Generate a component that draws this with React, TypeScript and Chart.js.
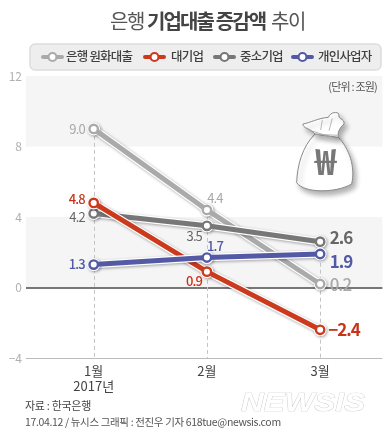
import React, { useEffect, useRef } from "react";
import { Chart, registerables } from "chart.js";

Chart.register(...registerables);

const months = ["1월", "2월", "3월"];
const yearNote = "2017년";
const bankLoans = [9.0, 4.4, 0.2];
const largeFirms = [4.8, 0.9, -2.4];
const smeFirms = [4.2, 3.5, 2.6];
const soleProps = [1.3, 1.7, 1.9];
const seriesNames = ["은행 원화대출", "대기업", "중소기업", "개인사업자"];
const seriesColors = ["#aaaaaa", "#cc3a1e", "#777777", "#5459a6"];
const labelTextColors = ["#a8a8a8", "#c9331a", "#666666", "#5459a6"];
const drawOrder = [3, 1, 2, 0];

const FONT = '"Noto Sans CJK KR", "Noto Sans", sans-serif';

// label placement per series/point: [dx, dy, align, size, weight]
const labelStyle: [number, number, CanvasTextAlign, number, number][][] = [
  [[-9, 0, "right", 13, 400], [8, -12, "center", 13, 400], [9.5, 1, "left", 17, 500]],
  [[-9, -4, "right", 13, 500], [-5, 9, "right", 13, 500], [8, 0, "left", 17, 700]],
  [[-9, 3.5, "right", 13, 400], [-5, 10, "right", 13, 400], [9.5, -4, "left", 17, 700]],
  [[-9, -1, "right", 13, 500], [8, -11, "center", 13, 500], [9.5, 8, "left", 17, 700]],
];

const fmt = (v: number) => (v < 0 ? "−" : "") + Math.abs(v).toFixed(1);

function text(ctx: any, s: string, x: number, y: number, font: string, color: string, align: CanvasTextAlign = "left", spacing = "0px") {
  ctx.font = font;
  ctx.fillStyle = color;
  ctx.textAlign = align;
  ctx.textBaseline = "middle";
  ctx.letterSpacing = spacing;
  ctx.fillText(s, x, y);
  ctx.letterSpacing = "0px";
}

const bandsPlugin = {
  id: "bands",
  beforeDraw(chart: any) {
    const { ctx, chartArea: a, scales } = chart;
    const y = scales.y;
    ctx.save();
    ctx.fillStyle = "#ffffff";
    ctx.fillRect(0, 0, chart.width, chart.height);
    ctx.fillStyle = "#f5f5f5";
    ctx.fillRect(a.left, y.getPixelForValue(12), a.width, y.getPixelForValue(8) - y.getPixelForValue(12));
    ctx.fillRect(a.left, y.getPixelForValue(4), a.width, y.getPixelForValue(0) - y.getPixelForValue(4));
    ctx.restore();
  },
  beforeDatasetsDraw(chart: any) {
    const { ctx, chartArea: a, scales, data } = chart;
    ctx.save();
    ctx.strokeStyle = "#c4c4c4";
    ctx.lineWidth = 1;
    ctx.setLineDash([4, 3]);
    months.forEach((_, i) => {
      const top = Math.max(...data.datasets.map((d: any) => d.data[i].y));
      const x = Math.round(scales.x.getPixelForValue(i)) + 0.5;
      ctx.beginPath();
      ctx.moveTo(x, scales.y.getPixelForValue(top));
      ctx.lineTo(x, a.bottom);
      ctx.stroke();
    });
    ctx.restore();
    drawBag(ctx);
  },
  beforeDatasetDraw(chart: any, args: any) {
    const { ctx } = chart;
    const pts = args.meta.data;
    ctx.save();
    ctx.shadowColor = "rgba(0,0,0,0.35)";
    ctx.shadowBlur = 3;
    ctx.shadowOffsetX = 1;
    ctx.shadowOffsetY = 1;
    ctx.strokeStyle = "#ffffff";
    ctx.lineWidth = 7.5;
    ctx.beginPath();
    pts.forEach((p: any, i: number) => (i ? ctx.lineTo(p.x, p.y) : ctx.moveTo(p.x, p.y)));
    ctx.stroke();
    ctx.fillStyle = "#ffffff";
    pts.forEach((p: any) => {
      ctx.beginPath();
      ctx.arc(p.x, p.y, 6.5, 0, Math.PI * 2);
      ctx.fill();
    });
    ctx.restore();
  },
  afterDraw(chart: any) {
    const { ctx, data } = chart;
    ctx.save();
    // data labels
    data.datasets.forEach((d: any, si: number) => {
      const meta = chart.getDatasetMeta(si);
      meta.data.forEach((p: any, i: number) => {
        const [dx, dy, align, size, weight] = labelStyle[si][i];
        text(ctx, fmt(d.data[i].y), p.x + dx, p.y + dy, `${weight} ${size}px ${FONT}`, labelTextColors[si], align, size > 14 ? "-1px" : "-0.9px");
      });
    });

    // title
    const reg = `400 20px ${FONT}`;
    const bold = `700 20px ${FONT}`;
    text(ctx, "은행", 110, 21, reg, "#555555", "left", "-1.3px");
    text(ctx, "기업대출 증감액", 147, 21, bold, "#444444", "left", "-1.9px");
    text(ctx, "추이", 271, 21, reg, "#555555", "left", "-1.3px");

    // legend
    ctx.beginPath();
    ctx.roundRect(30, 44, 351, 26, 5);
    ctx.fillStyle = "#eeeeee";
    ctx.fill();
    ctx.strokeStyle = "#dddddd";
    ctx.lineWidth = 1.5;
    ctx.stroke();
    const swatchX = [41, 143, 213, 291];
    const textX = [66, 171, 240, 318];
    seriesNames.forEach((name, i) => {
      const c = seriesColors[i];
      ctx.strokeStyle = c;
      ctx.lineWidth = 4;
      ctx.lineCap = "round";
      ctx.beginPath();
      ctx.moveTo(swatchX[i] + 2, 57);
      ctx.lineTo(swatchX[i] + 21, 57);
      ctx.stroke();
      ctx.lineCap = "butt";
      ctx.beginPath();
      ctx.arc(swatchX[i] + 11.5, 57, 4, 0, Math.PI * 2);
      ctx.fillStyle = "#ffffff";
      ctx.fill();
      ctx.lineWidth = 2.2;
      ctx.stroke();
      text(ctx, name, textX[i], 56.5, `500 12.5px ${FONT}`, "#3f3f3f", "left", "-0.8px");
    });

    // notes
    text(ctx, "(단위 : 조원)", 377, 87, `400 11px ${FONT}`, "#555555", "right", "-0.8px");
    text(ctx, "자료 : 한국은행", 25, 406, `400 11px ${FONT}`, "#444444", "left", "-0.3px");
    text(ctx, "17.04.12 / 뉴시스 그래픽 : 전진우 기자 618tue@newsis.com", 25, 422, `400 10.5px ${FONT}`, "#555555", "left", "-0.35px");

    // watermark
    ctx.save();
    ctx.font = `italic 700 24px "Liberation Sans", sans-serif`;
    ctx.textAlign = "left";
    ctx.textBaseline = "alphabetic";
    const w = ctx.measureText("NEWSIS").width;
    ctx.translate(241, 411);
    ctx.scale(124 / w, 1.05);
    ctx.fillStyle = "#ffffff";
    ctx.strokeStyle = "#c8c8c8";
    ctx.lineWidth = 0.7;
    ctx.strokeText("NEWSIS", 0, 0);
    ctx.fillText("NEWSIS", 0, 0);
    ctx.restore();
    ctx.restore();
  },
};

function drawBag(ctx: any) {
  ctx.save();
  ctx.translate(189, 110);
  ctx.scale(1 / 3, 1 / 3);
  ctx.shadowColor = "rgba(0,0,0,0.3)";
  ctx.shadowBlur = 5;
  ctx.shadowOffsetX = 3;
  ctx.shadowOffsetY = 4;
  ctx.fillStyle = "#ffffff";
  ctx.strokeStyle = "#8a8a8a";
  ctx.lineWidth = 3;
  ctx.lineJoin = "round";
  // body
  ctx.beginPath();
  ctx.moveTo(378, 72);
  ctx.bezierCurveTo(340, 110, 325, 165, 323, 218);
  ctx.bezierCurveTo(345, 250, 440, 250, 488, 222);
  ctx.bezierCurveTo(500, 170, 480, 115, 448, 82);
  ctx.closePath();
  ctx.fill();
  ctx.stroke();
  // top ruffle
  ctx.beginPath();
  ctx.moveTo(378, 72);
  ctx.bezierCurveTo(365, 55, 340, 55, 342, 42);
  ctx.bezierCurveTo(365, 38, 385, 25, 418, 22);
  ctx.bezierCurveTo(425, 5, 445, 5, 450, 12);
  ctx.bezierCurveTo(445, 30, 468, 25, 465, 42);
  ctx.bezierCurveTo(450, 55, 445, 70, 448, 82);
  ctx.closePath();
  ctx.fill();
  ctx.stroke();
  ctx.shadowColor = "transparent";
  ctx.lineWidth = 2.5;
  ctx.strokeStyle = "#aaaaaa";
  ctx.beginPath();
  ctx.moveTo(372, 64); ctx.lineTo(460, 92);
  ctx.moveTo(376, 72); ctx.lineTo(445, 76);
  ctx.moveTo(400, 30); ctx.lineTo(395, 60);
  ctx.moveTo(430, 25); ctx.lineTo(420, 62);
  ctx.stroke();
  ctx.restore();
  ctx.save();
  text(ctx, "₩", 325.5, 161, `700 36px ${FONT}`, "#777777", "center");
  ctx.restore();
}

const makeSeries = (values: number[]) => values.map((y, x) => ({ x, y }));

export default function App() {
  const ref = useRef<HTMLCanvasElement>(null);
  useEffect(() => {
    document.body.style.margin = "0";
    const all = [bankLoans, largeFirms, smeFirms, soleProps];
    const chart = new Chart(ref.current as HTMLCanvasElement, {
      type: "scatter",
      data: {
        datasets: all.map((v, i) => ({
          label: seriesNames[i],
          data: makeSeries(v),
          showLine: true,
          order: drawOrder[i],
          borderColor: seriesColors[i],
          backgroundColor: seriesColors[i],
          borderWidth: 5,
          pointRadius: 4.2,
          pointBorderWidth: 2.4,
          pointBackgroundColor: "#ffffff",
          pointBorderColor: seriesColors[i],
          tension: 0,
          clip: false,
        })),
      },
      plugins: [bandsPlugin],
      options: {
        animation: false,
        responsive: false,
        layout: { padding: { top: 76, right: 5, left: 0, bottom: 0 } },
        plugins: { legend: { display: false }, title: { display: false }, tooltip: { enabled: false } },
        scales: {
          x: {
            type: "linear",
            min: -0.598,
            max: 2.55,
            afterFit: (s: any) => { s.height = 78; },
            afterBuildTicks: (s: any) => { s.ticks = months.map((_, i) => ({ value: i })); },
            grid: { display: false },
            border: { display: false },
            ticks: {
              autoSkip: false,
              maxRotation: 0,
              padding: -3,
              color: "#444444",
              font: { family: FONT, size: 13 },
              callback: (v: any) => (v === 0 ? [months[0], yearNote] : months[v]),
            },
          },
          y: {
            min: -4,
            max: 12,
            afterFit: (s: any) => { s.width = 26; },
            border: { display: false },
            grid: {
              drawTicks: false,
              color: (c: any) => (c.tick.value === 0 ? "#777777" : c.tick.value === -4 ? "#bbbbbb" : "rgba(0,0,0,0)"),
              lineWidth: (c: any) => (c.tick.value === 0 ? 2 : 1),
            },
            ticks: {
              stepSize: 4,
              padding: 4,
              color: "#b0b0b0",
              font: { family: FONT, size: 12 },
              callback: (v: any) => (v < 0 ? "−" + Math.abs(v) : String(v)),
            },
          },
        },
      },
    } as any);
    return () => chart.destroy();
  }, []);
  return <canvas ref={ref} width={389} height={436} style={{ display: "block" }} />;
}
